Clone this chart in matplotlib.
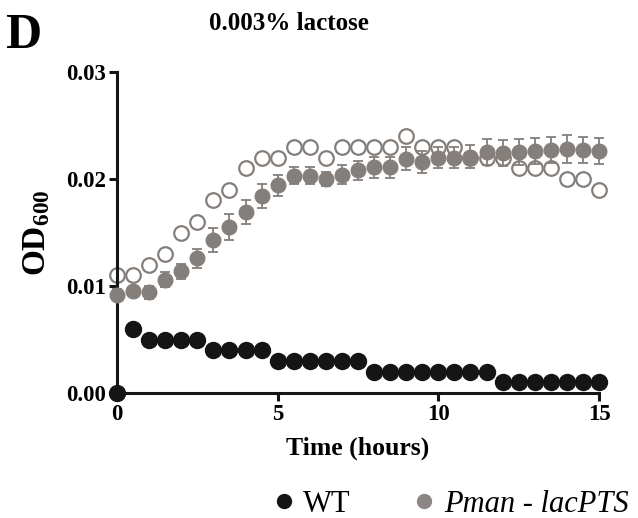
import numpy as np
import matplotlib.pyplot as plt
from matplotlib.lines import Line2D

# Time points (hours)
hours = np.arange(0, 15.01, 0.5)

# WT OD600
wt_od = [0.000, 0.006, 0.005, 0.005, 0.005, 0.005, 0.004, 0.004, 0.004, 0.004,
         0.003, 0.003, 0.003, 0.003, 0.003, 0.003, 0.002, 0.002, 0.002, 0.002,
         0.002, 0.002, 0.002, 0.002, 0.001, 0.001, 0.001, 0.001, 0.001, 0.001,
         0.001]

# Pman - lacPTS mean and SD
pman_mean = [0.0092, 0.0095, 0.0094, 0.0106, 0.0114, 0.0126, 0.0143, 0.0155,
             0.0169, 0.0184, 0.0194, 0.0203, 0.0203, 0.0200, 0.0204, 0.0208,
             0.0211, 0.0211, 0.0219, 0.0216, 0.0220, 0.0220, 0.0221, 0.0225,
             0.0224, 0.0225, 0.0226, 0.0227, 0.0228, 0.0227, 0.0226]
pman_err = [0.0005, 0.0004, 0.0006, 0.0007, 0.0007, 0.0009, 0.0011, 0.0012,
            0.0011, 0.0011, 0.0010, 0.0008, 0.0008, 0.0007, 0.0009, 0.0009,
            0.0010, 0.0010, 0.0011, 0.0010, 0.0010, 0.0010, 0.0011, 0.0012,
            0.0012, 0.0012, 0.0012, 0.0012, 0.0013, 0.0012, 0.0012]

# Pman - lacPTS single replicate (open circles)
pman_open = [0.011, 0.011, 0.012, 0.013, 0.015, 0.016, 0.018, 0.019, 0.021,
             0.022, 0.022, 0.023, 0.023, 0.022, 0.023, 0.023, 0.023, 0.023,
             0.024, 0.023, 0.023, 0.023, 0.022, 0.022, 0.022, 0.021, 0.021,
             0.021, 0.020, 0.020, 0.019]

plt.rcParams.update({
    'font.family': 'serif',
    'font.serif': ['Liberation Serif'],
    'mathtext.fontset': 'custom',
    'mathtext.rm': 'Liberation Serif:bold',
    'mathtext.bf': 'Liberation Serif:bold',
    'mathtext.default': 'bf',
})

grey = '#857f7b'
black = '#151515'

fig = plt.figure(figsize=(6.38, 5.18), dpi=100)
ax = fig.add_axes([0.1834, 0.2413, 0.7555, 0.6197])

ax.plot(hours, pman_open, 'o', ms=10.5, mfc='none', mec=grey, mew=1.6,
        zorder=2, clip_on=False)
ax.errorbar(hours, pman_mean, yerr=pman_err, fmt='o', ms=10.5, color=grey,
            ecolor=grey, elinewidth=1.3, capsize=3.5, capthick=1.3,
            zorder=3, clip_on=False)
ax.plot(hours, wt_od, 'o', ms=11.5, color=black, zorder=4, clip_on=False)

ax.set_xlim(0, 15)
ax.set_ylim(0, 0.03)
ax.set_xticks([0, 5, 10, 15])
ax.set_yticks([0, 0.01, 0.02, 0.03])
ax.set_yticklabels(['0.00', '0.01', '0.02', '0.03'])

for s in ['top', 'right']:
    ax.spines[s].set_visible(False)
for s in ['left', 'bottom']:
    ax.spines[s].set_linewidth(2.2)
    ax.spines[s].set_color(black)
ax.tick_params(width=2.2, length=6, color=black, labelsize=16.5, pad=2)
for lab in ax.get_xticklabels() + ax.get_yticklabels():
    lab.set_fontweight('bold')

ax.set_xlabel('Time (hours)', fontsize=18.5, fontweight='bold', labelpad=8)
ax.set_ylabel(r'OD$_{\mathbf{600}}$', fontsize=24, fontweight='bold',
              labelpad=10)

fig.text(0.453, 0.955, '0.003% lactose', fontsize=18, fontweight='bold',
         ha='center', va='center')
fig.text(0.008, 0.93, 'D', fontsize=36, fontweight='bold',
         ha='left', va='center')

handles = [Line2D([], [], ls='none', marker='o', ms=10, color=black),
           Line2D([], [], ls='none', marker='o', ms=10, color='#8c8785')]
leg = fig.legend(handles, ['WT', 'Pman - lacPTS'], loc='center',
                 bbox_to_anchor=(0.703, 0.027), ncol=2, frameon=False,
                 fontsize=22, handletextpad=0.15, columnspacing=1.9,
                 handlelength=1.0)
leg.get_texts()[1].set_fontstyle('italic')

fig.savefig('out.png', dpi=100)
